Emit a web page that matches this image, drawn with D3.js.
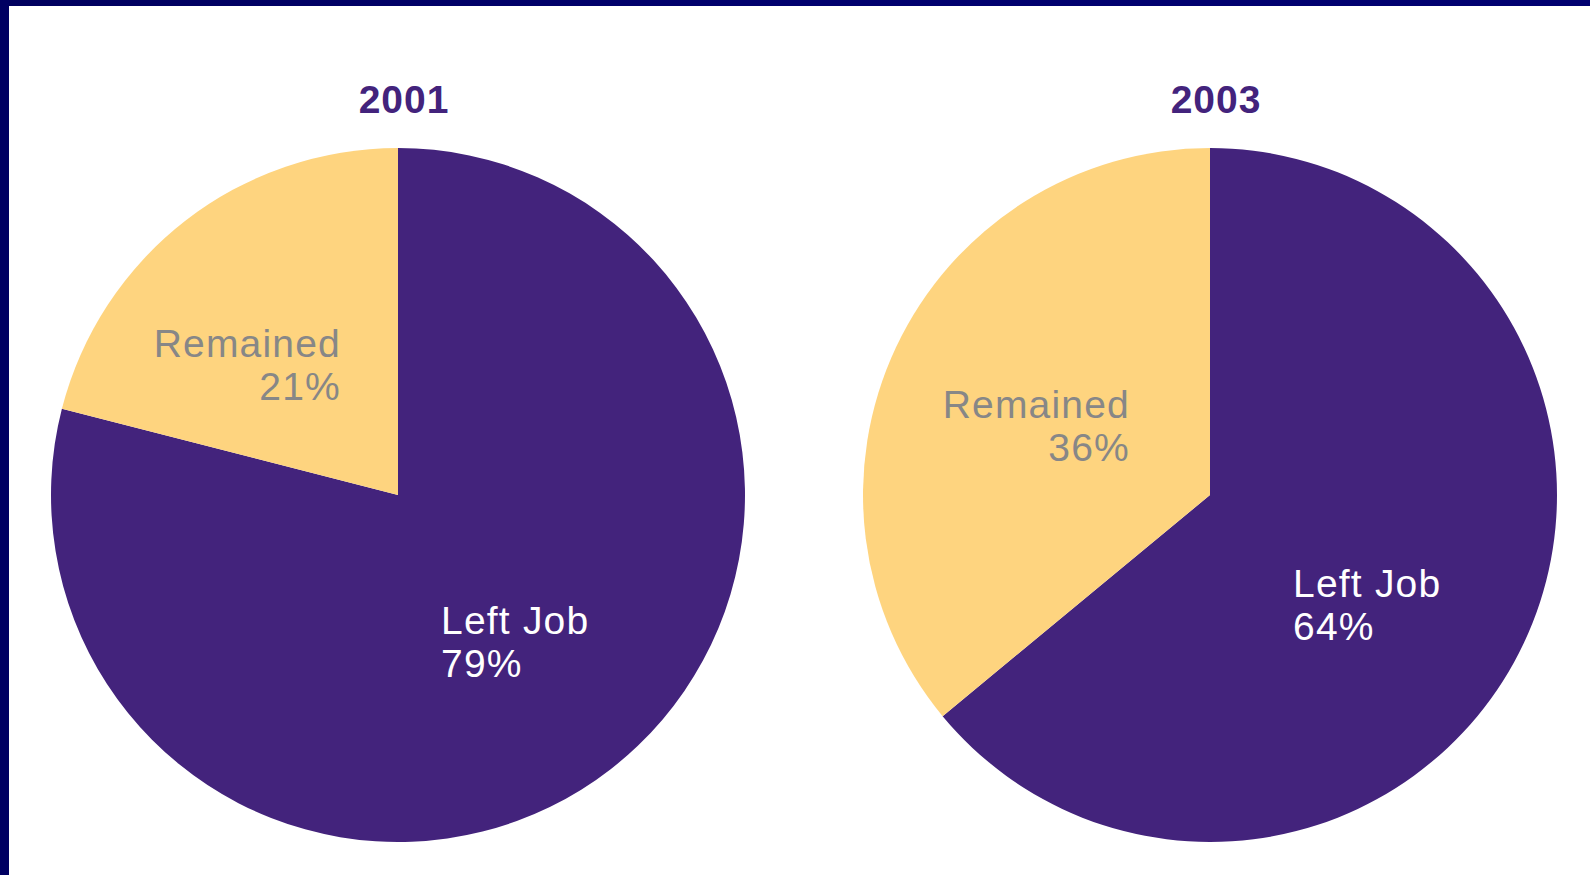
<!DOCTYPE html>
<html>
<head>
<meta charset="utf-8">
<script src="https://cdn.jsdelivr.net/npm/d3@7"></script>
<style>
  html, body { margin: 0; padding: 0; background: #ffffff; }
  svg { display: block; }
</style>
</head>
<body>
<script>
// Share of workers who left their job vs. remained, by year
const years = ["2001", "2003"];
const categories = ["Left Job", "Remained"];
const leftJob = [79, 64];
const remained = [21, 36];

const W = 1590, H = 875;
const svg = d3.select("body").append("svg").attr("width", W).attr("height", H);

// frame: dark navy band along the top and left edges
const grad = svg.append("defs").append("linearGradient").attr("id", "frame")
  .attr("x1", 0).attr("x2", 1).attr("y1", 0).attr("y2", 0);
grad.append("stop").attr("offset", "0%").attr("stop-color", "#00005e");
grad.append("stop").attr("offset", "50%").attr("stop-color", "#00006e");
grad.append("stop").attr("offset", "100%").attr("stop-color", "#000070");
svg.append("rect").attr("x", 0).attr("y", 0).attr("width", W).attr("height", 6).attr("fill", "url(#frame)");
svg.append("rect").attr("x", 0).attr("y", 0).attr("width", 9).attr("height", H).attr("fill", "#000062");

const color = d3.scaleOrdinal().domain(categories).range(["#43237c", "#fed47f"]);
const textColor = d3.scaleOrdinal().domain(categories).range(["#ffffff", "#878787"]);

const centers = d3.scalePoint().domain(years).range([398, 1210]);
const radius = 347;
const cy = 495;

const pie = d3.pie().sort(null).value(d => d.value);
const arc = d3.arc().innerRadius(0).outerRadius(radius);

const font = "'Liberation Sans', Arial, Helvetica, sans-serif";

years.forEach((yr, i) => {
  const data = [
    { key: categories[0], value: leftJob[i] },
    { key: categories[1], value: remained[i] }
  ];
  const g = svg.append("g").attr("transform", `translate(${centers(yr)},${cy})`);

  g.selectAll("path").data(pie(data)).join("path")
    .attr("d", arc)
    .attr("fill", d => color(d.data.key));

  g.append("text")
    .attr("x", 6).attr("y", 113 - cy)
    .attr("text-anchor", "middle")
    .attr("font-family", font).attr("font-weight", "bold")
    .attr("font-size", 39).attr("fill", "#43237c")
    .attr("letter-spacing", 1)
    .text(yr);
});

// slice labels (name + percentage)
const labelPos = {
  "2001": { "Left Job": { x: 441, y: 634, anchor: "start" }, "Remained": { x: 341, y: 357, anchor: "end" } },
  "2003": { "Left Job": { x: 1293, y: 597, anchor: "start" }, "Remained": { x: 1130, y: 418, anchor: "end" } }
};

years.forEach((yr, i) => {
  const vals = { "Left Job": leftJob[i], "Remained": remained[i] };
  categories.forEach(cat => {
    const p = labelPos[yr][cat];
    const t = svg.append("text")
      .attr("text-anchor", p.anchor)
      .attr("font-family", font)
      .attr("font-size", 39)
      .attr("letter-spacing", 1.2)
      .attr("fill", textColor(cat));
    t.append("tspan").attr("x", p.x).attr("y", p.y).text(cat);
    t.append("tspan").attr("x", p.x).attr("y", p.y + 43).text(vals[cat] + "%");
  });
});
</script>
</body>
</html>
